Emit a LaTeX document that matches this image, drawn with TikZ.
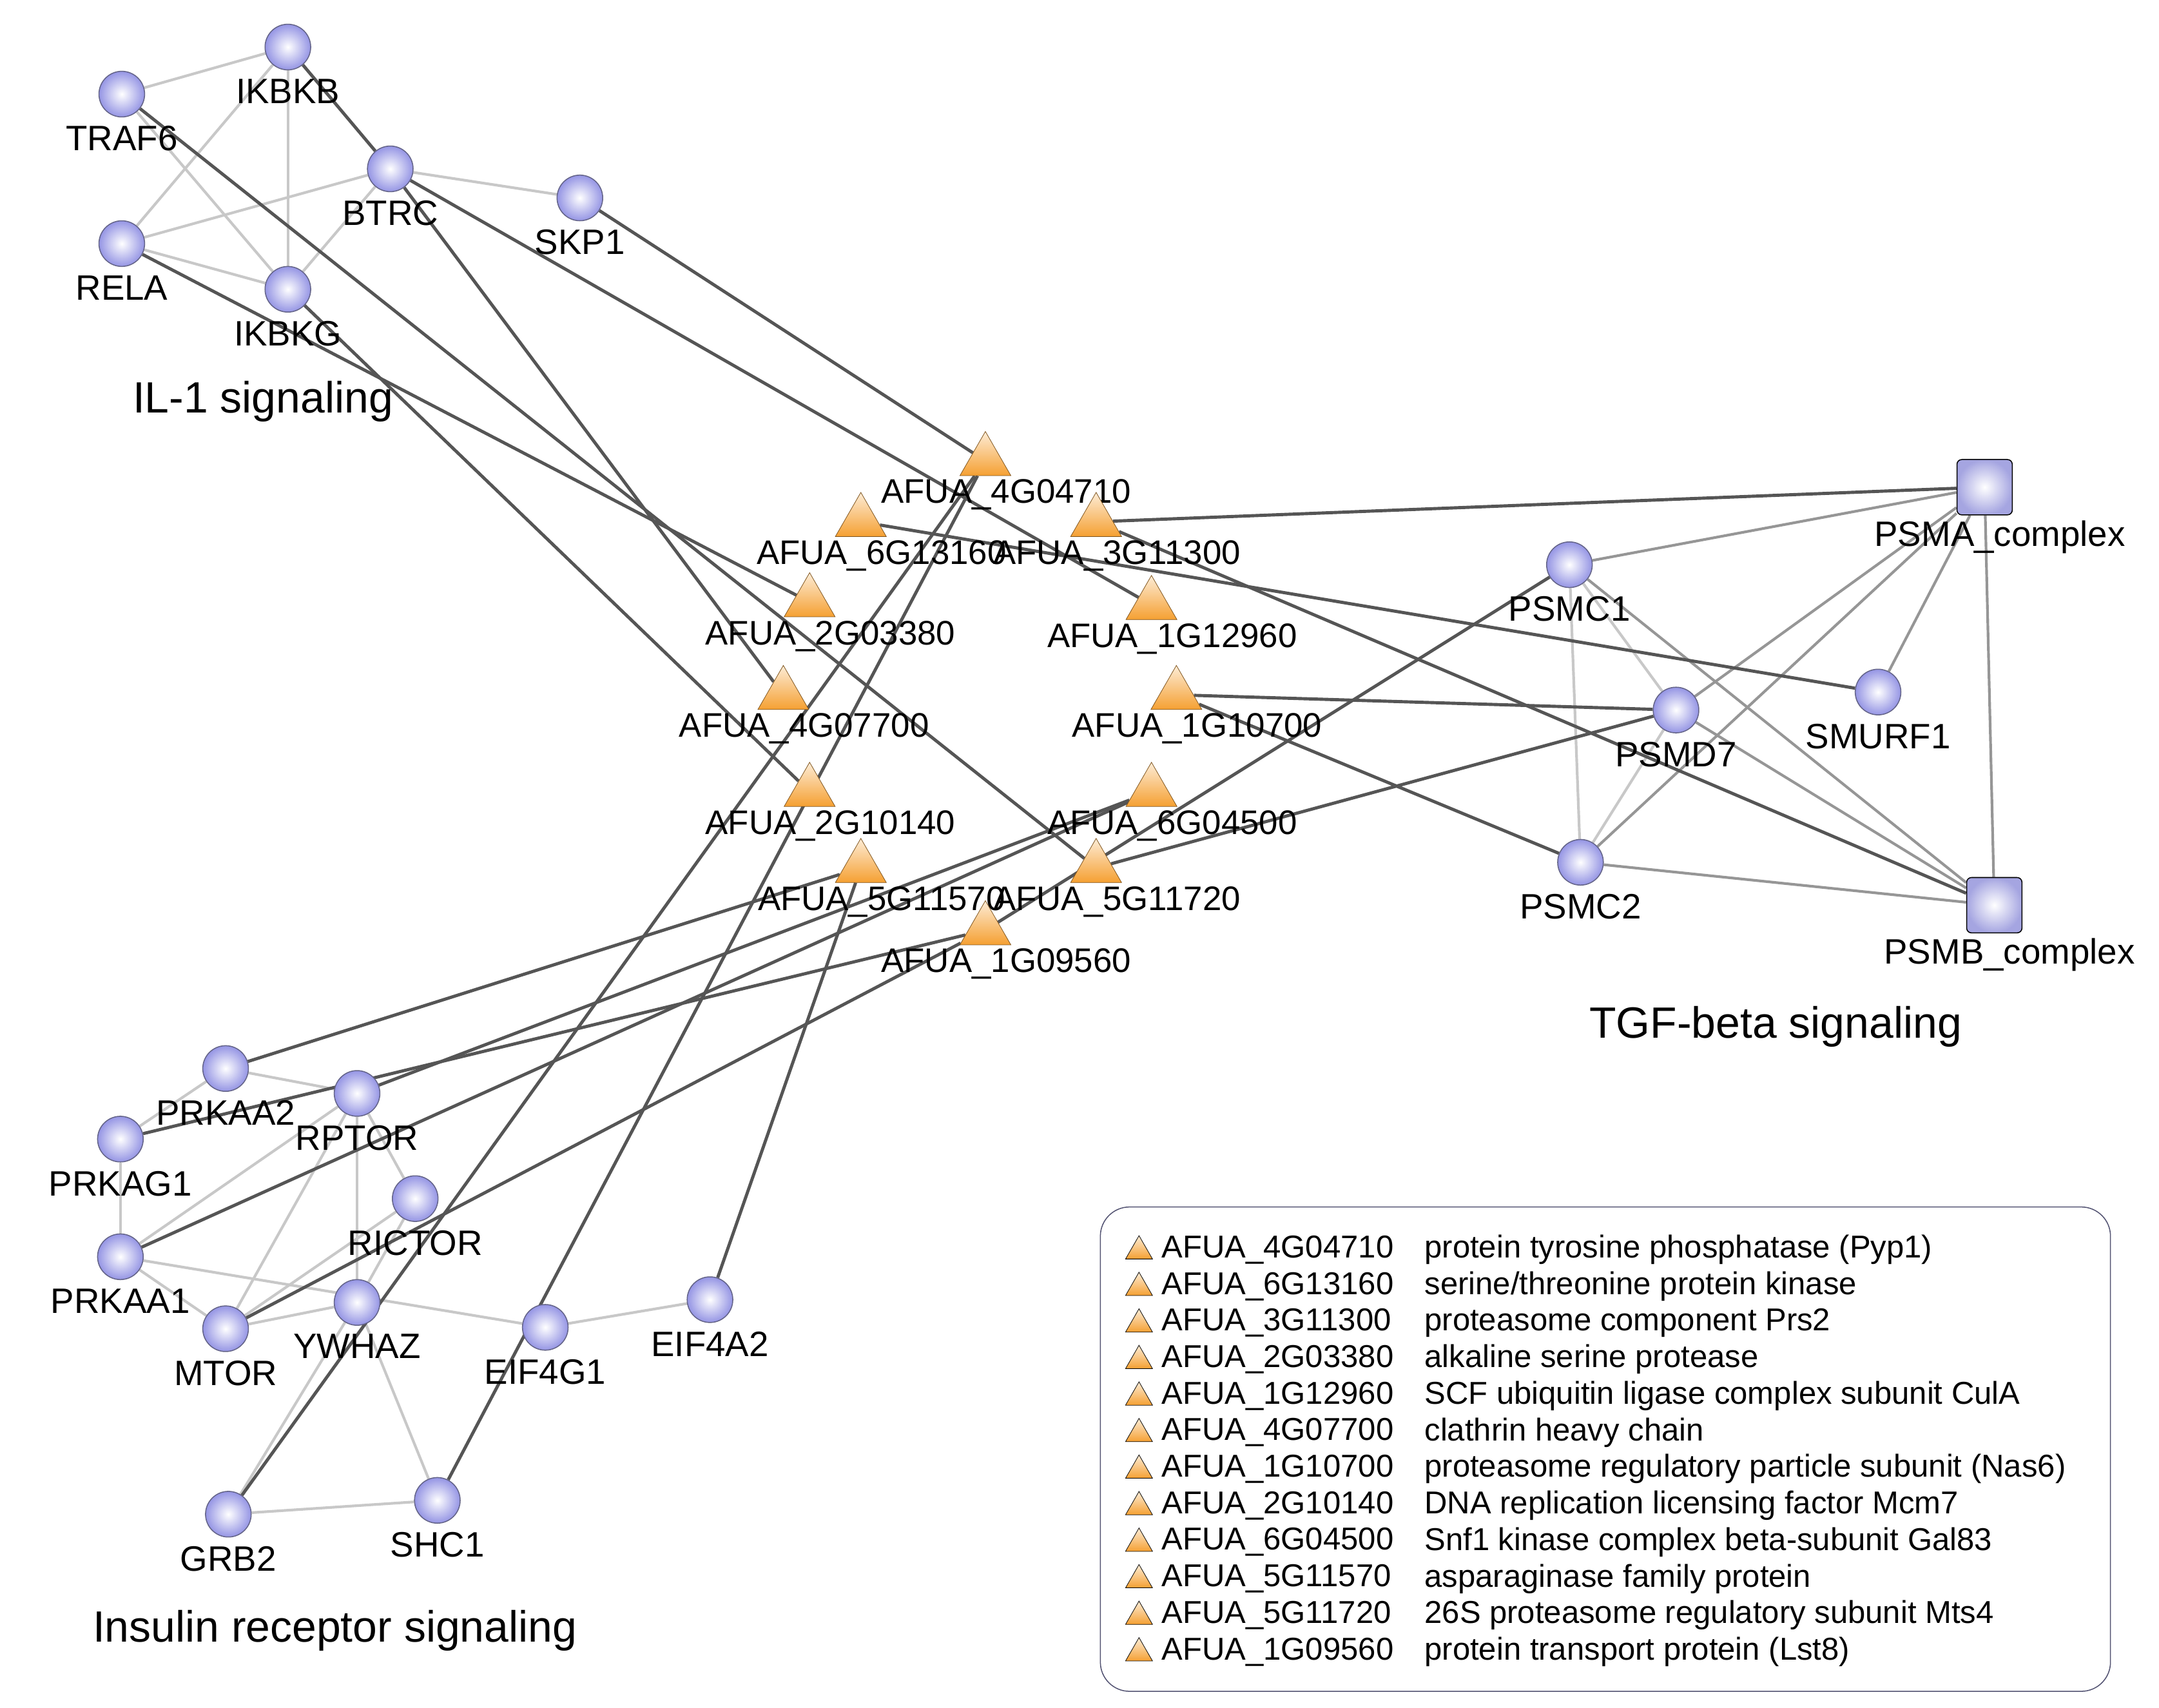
\documentclass[tikz,border=0pt]{standalone}
\usepackage{fontspec}
\setmainfont{Liberation Sans}
\usetikzlibrary{shapes.geometric}
\definecolor{protein}{RGB}{165,165,225}
\definecolor{afua}{RGB}{245,160,50}
\definecolor{strong}{RGB}{85,85,85}
\definecolor{weak}{RGB}{200,200,200}
\definecolor{mid}{RGB}{150,150,150}
\pgfdeclarelayer{edges}
\pgfsetlayers{edges,main}
\tikzset{
  prot/.style={circle, draw=protein!60!black, thin, minimum size=0.66cm, inner sep=0pt,
    inner color=white, outer color=protein!90!blue,
    label={[font=\fontsize{14.5}{14.5}\selectfont, label distance=0pt]below:#1}},
  cplx/.style={rectangle, rounded corners=2pt, draw=black, thin, minimum size=0.8cm, inner sep=0pt,
    inner color=white, outer color=protein},
  gene/.style={regular polygon, regular polygon sides=3, minimum size=0.85cm, inner sep=0pt,
    draw=afua!50!black, very thin, top color=afua!20!white, bottom color=afua,
    label={[font=\fontsize{14}{14}\selectfont, xshift=0.3cm, label distance=-2pt]below:#1}},
  link/.style={strong, line width=1.3pt},
  tie/.style={weak, line width=1.1pt},
  hub/.style={mid, line width=1.1pt},
  group/.style={font=\fontsize{18}{18}\selectfont},
}
\begin{document}
\begin{tikzpicture}[x=0.02cm, y=-0.02cm]
    \useasboundingbox (0,0) rectangle (1560,1234);

    % IL-1 signaling
    \node[prot=TRAF6] (traf6) at (88,68) {};
    \node[prot=IKBKB] (ikbkb) at (208,34) {};
    \node[prot=BTRC] (btrc) at (282,122) {};
    \node[prot=SKP1] (skp1) at (419,143) {};
    \node[prot=RELA] (rela) at (88,176) {};
    \node[prot=IKBKG] (ikbkg) at (208,209) {};
    \node[group] (il1) at (190,290) {IL-1 signaling};

    % TGF-beta signaling
    \node[cplx] (psma) at (1434,352) {};
    \node[font=\fontsize{14.5}{14.5}\selectfont] (psmal) at (1445,388) {PSMA\_complex};
    \node[cplx] (psmb) at (1441,654) {};
    \node[font=\fontsize{14.5}{14.5}\selectfont] (psmbl) at (1452,690) {PSMB\_complex};
    \node[prot=PSMC1] (psmc1) at (1134,408) {};
    \node[prot=SMURF1] (smurf1) at (1357,500) {};
    \node[prot=PSMD7] (psmd7) at (1211,513) {};
    \node[prot=PSMC2] (psmc2) at (1142,623) {};
    \node[group] (tgf) at (1283,742) {TGF-beta signaling};

    % Insulin receptor signaling
    \node[prot=PRKAA2] (prkaa2) at (163,772) {};
    \node[prot=RPTOR] (rptor) at (258,790) {};
    \node[prot=PRKAG1] (prkag1) at (87,823) {};
    \node[prot=RICTOR] (rictor) at (300,866) {};
    \node[prot=PRKAA1] (prkaa1) at (87,908) {};
    \node[prot=YWHAZ] (ywhaz) at (258,941) {};
    \node[prot=MTOR] (mtor) at (163,960) {};
    \node[prot=EIF4G1] (eif4g1) at (394,959) {};
    \node[prot=EIF4A2] (eif4a2) at (513,939) {};
    \node[prot=GRB2] (grb2) at (165,1094) {};
    \node[prot=SHC1] (shc1) at (316,1084) {};
    \node[group] (ins) at (242,1178) {Insulin receptor signaling};

    % Aspergillus genes
    \node[gene=AFUA\_4G04710] (g4g04710) at (712,333) {};
    \node[gene=AFUA\_6G13160] (g6g13160) at (622,377) {};
    \node[gene=AFUA\_3G11300] (g3g11300) at (792,377) {};
    \node[gene=AFUA\_2G03380] (g2g03380) at (585,435) {};
    \node[gene=AFUA\_1G12960] (g1g12960) at (832,437) {};
    \node[gene=AFUA\_4G07700] (g4g07700) at (566,502) {};
    \node[gene=AFUA\_1G10700] (g1g10700) at (850,502) {};
    \node[gene=AFUA\_2G10140] (g2g10140) at (585,572) {};
    \node[gene=AFUA\_6G04500] (g6g04500) at (832,572) {};
    \node[gene=AFUA\_5G11570] (g5g11570) at (622,627) {};
    \node[gene=AFUA\_5G11720] (g5g11720) at (792,627) {};
    \node[gene=AFUA\_1G09560] (g1g09560) at (712,672) {};

    \begin{pgfonlayer}{edges}
    % weak interactions inside the groups
    \foreach \a/\b in {traf6/ikbkb, traf6/ikbkg, ikbkb/rela, ikbkb/ikbkg, rela/btrc, rela/ikbkg,
        ikbkg/btrc, btrc/skp1, psmc1/psmc2, psmc1/psmd7, psmd7/psmc2,
        prkaa2/rptor, prkaa2/prkag1, prkag1/prkaa1, rptor/ywhaz, rptor/mtor, rptor/rictor,
        prkaa1/mtor, prkaa1/rptor, prkaa1/eif4g1, mtor/ywhaz, mtor/rictor, ywhaz/rictor,
        ywhaz/grb2, ywhaz/shc1, grb2/shc1, eif4g1/eif4a2}
      \draw[tie] (\a) -- (\b);
    \foreach \a/\b in {psmc1/psma, psmc1/psmb, psmd7/psma, psmd7/psmb, psmc2/psma,
        psmc2/psmb, smurf1/psma, psma/psmb}
      \draw[hub] (\a) -- (\b);
    % interactions with the fungal genes
    \foreach \a/\b in {ikbkb/btrc, btrc/g1g12960, btrc/g4g07700, skp1/g4g04710, traf6/g5g11720,
        rela/g2g03380, ikbkg/g2g10140, g3g11300/psma, g3g11300/psmb,
        g6g13160/smurf1, g1g10700/psmd7, g1g10700/psmc2, psmc1/g1g09560, psmd7/g5g11720,
        prkaa2/g5g11570, rptor/g6g04500, prkag1/g1g09560, prkaa1/g6g04500, mtor/g1g09560,
        grb2/g4g04710, shc1/g4g04710, eif4a2/g5g11570}
      \draw[link] (\a) -- (\b);
    \end{pgfonlayer}

    % legend
    \node[draw=protein!50!black, rounded corners=12pt, minimum width=14.6cm, minimum height=7cm] (legend) at (1160,1047) {};
    \foreach \id/\txt [count=\n from 0] in {
        4G04710/{protein tyrosine phosphatase (Pyp1)},
        6G13160/{serine/threonine protein kinase},
        3G11300/{proteasome component Prs2},
        2G03380/{alkaline serine protease},
        1G12960/{SCF ubiquitin ligase complex subunit CulA},
        4G07700/{clathrin heavy chain},
        1G10700/{proteasome regulatory particle subunit (Nas6)},
        2G10140/{DNA replication licensing factor Mcm7},
        6G04500/{Snf1 kinase complex beta-subunit Gal83},
        5G11570/{asparaginase family protein},
        5G11720/{26S proteasome regulatory subunit Mts4},
        1G09560/{protein transport protein (Lst8)}} {
      \node[regular polygon, regular polygon sides=3, minimum size=0.45cm, inner sep=0pt,
        draw=black, very thin, top color=afua!20!white, bottom color=afua] (k\n) at (823,904+26.4*\n) {};
      \node[anchor=west, font=\fontsize{13}{13}\selectfont, inner sep=0pt] (id\n) at (839,903+26.4*\n) {AFUA\_\id};
      \node[anchor=west, font=\fontsize{13}{13}\selectfont, inner sep=0pt] (tx\n) at (1029,903+26.4*\n) {\txt};
    }
\end{tikzpicture}
\end{document}
